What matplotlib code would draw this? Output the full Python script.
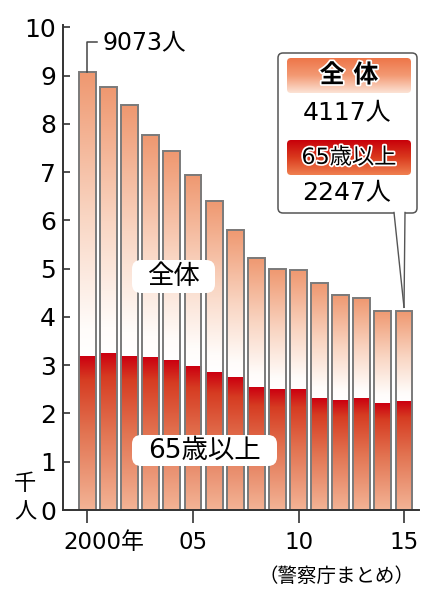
import numpy as np
import matplotlib
matplotlib.use('Agg')
import matplotlib.pyplot as plt
from matplotlib.colors import LinearSegmentedColormap
from matplotlib.patches import Rectangle, FancyBboxPatch, Polygon
import matplotlib.patheffects as pe

plt.rcParams['font.family'] = ['DejaVu Sans', 'Noto Sans CJK JP']

# ---- data (thousand persons) ----
years = list(range(2000, 2016))
total = [9.073, 8.76, 8.39, 7.77, 7.44, 6.95, 6.41, 5.81, 5.22, 4.99, 4.97, 4.70, 4.45, 4.39, 4.12, 4.117]
elderly = [3.18, 3.24, 3.18, 3.15, 3.09, 2.97, 2.85, 2.75, 2.54, 2.49, 2.49, 2.31, 2.27, 2.31, 2.21, 2.247]
ytick_vals = list(range(0, 11))
xtick_years = [2000, 2005, 2010, 2015]
xtick_labels = ['2000年', '05', '10', '15']
label_total = '全体'
label_elderly = '65歳以上'
source = '（警察庁まとめ）'

W, H = 421, 590
fig = plt.figure(figsize=(W / 100, H / 100), dpi=100)
ax = fig.add_axes([63 / W, 80 / H, (419 - 63) / W, 485 / H])

cm_total = LinearSegmentedColormap.from_list(
    't', [(0, '#FFFFFF'), (0.1, '#FFFCFA'), (0.5, '#F9D5C2'), (1, '#EF9870')])
cm_old = LinearSegmentedColormap.from_list(
    'o', [(0, '#F3B496'), (0.5, '#E27452'), (0.85, '#D63C22'), (1, '#CC0010')])
grad = np.linspace(0, 1, 256).reshape(-1, 1)
bw = 0.8
x0 = years[0]
for i, (y, t, e) in enumerate(zip(years, total, elderly)):
    x = y - x0
    ax.imshow(grad, extent=[x - bw / 2, x + bw / 2, e, t], origin='lower', cmap=cm_total,
              aspect='auto', interpolation='bilinear', zorder=2)
    ax.imshow(grad, extent=[x - bw / 2, x + bw / 2, 0, e], origin='lower', cmap=cm_old,
              aspect='auto', interpolation='bilinear', zorder=2)
    ax.add_patch(Rectangle((x - bw / 2, 0), bw, t, fill=False, ec='#7a7a7a', lw=1.4, zorder=3))

ax.set_xlim(-1.16, 15.71)
ax.set_ylim(0, 10.05)
for s in ['top', 'right']:
    ax.spines[s].set_visible(False)
for s in ['left', 'bottom']:
    ax.spines[s].set_color('#333333')
    ax.spines[s].set_linewidth(1.4)
    ax.spines[s].set_zorder(4)
ax.set_yticks(ytick_vals)
ax.set_yticklabels([str(v) for v in ytick_vals])
ax.tick_params(axis='y', direction='in', length=5, width=1.2, color='#333333', labelsize=18, pad=5)
ax.set_xticks([y - x0 for y in xtick_years])
ax.set_xticklabels([''] * len(xtick_years))
ax.tick_params(axis='x', direction='out', length=9, width=1.2, color='#333333')
xt = ax.get_xaxis_transform()
for y, lab in zip(xtick_years, xtick_labels):
    if y == xtick_years[0]:
        ax.text(y - x0 - 1.14, -0.068, lab, transform=xt, ha='left', va='center', fontsize=16.5, clip_on=False)
    else:
        ax.text(y - x0, -0.068, lab, transform=xt, ha='center', va='center', fontsize=16.5, clip_on=False)

# 9073 label with leader
ax.plot([0, 0, 0.45], [total[0], 9.69, 9.69], color='#444444', lw=1.1, clip_on=False, zorder=4)
ax.text(0.7, 9.69, f'{round(total[0] * 1000)}人', ha='left', va='center', fontsize=17, clip_on=False)

# ---- overlay in pixel coordinates ----
oax = fig.add_axes([0, 0, 1, 1], zorder=5)
oax.patch.set_alpha(0)
oax.axis('off')

def set_lims():
    oax.set_xlim(0, W)
    oax.set_ylim(H, 0)

set_lims()

def rbox(x, y, w, h, r, **kw):
    p = FancyBboxPatch((x, y), w, h, boxstyle=f'round,pad=0,rounding_size={r}', **kw)
    oax.add_patch(p)
    return p

# middle labels
rbox(132, 260, 83, 33, 9, fc='white', ec='none')
oax.text(173.5, 277, label_total, ha='center', va='center', fontsize=19)
rbox(132, 435, 145, 31, 9, fc='white', ec='none')
oax.text(204, 451, label_elderly, ha='center', va='center', fontsize=19)

# callout
px, py = ax.transData.transform((years[-1] - x0, total[-1]))
tip = (px, H - py - 4)
rbox(278, 53, 139, 160, 5, fc='white', ec='#555555', lw=1.1, zorder=1)
oax.add_patch(Polygon([(394, 211), (405, 211), tip], closed=True, fc='white', ec='none', zorder=3))
oax.plot([394, tip[0]], [212.5, tip[1]], color='#555555', lw=1.0, zorder=4)
oax.plot([405, tip[0]], [212.5, tip[1]], color='#555555', lw=1.0, zorder=4)

band1 = rbox(287, 58, 124, 35, 4, fc='none', ec='none', zorder=2)
im1 = oax.imshow(grad, extent=[287, 411, 93, 58], origin='upper', aspect='auto', zorder=2,
                 cmap=LinearSegmentedColormap.from_list('b1', ['#EE7548', '#F39A74', '#FCE3D6']))
im1.set_clip_path(band1)
band2 = rbox(287, 140, 124, 35, 4, fc='none', ec='none', zorder=2)
im2 = oax.imshow(grad, extent=[287, 411, 175, 140], origin='upper', aspect='auto', zorder=2,
                 cmap=LinearSegmentedColormap.from_list('b2', ['#C8000A', '#DA3A1E', '#F08050']))
im2.set_clip_path(band2)
set_lims()

stroke = [pe.withStroke(linewidth=2.5, foreground='white')]
oax.text(349, 75.5, '全 体', ha='center', va='center', fontsize=18, fontweight='bold',
         path_effects=stroke, zorder=6)
oax.text(347, 113, f'{round(total[-1] * 1000)}人', ha='center', va='center', fontsize=18, zorder=6)
oax.text(349, 157.5, label_elderly, ha='center', va='center', fontsize=16,
         path_effects=stroke, zorder=6)
oax.text(347, 193, f'{round(elderly[-1] * 1000)}人', ha='center', va='center', fontsize=18, zorder=6)

# unit label and source
oax.text(25, 484, '千', ha='center', va='center', fontsize=16)
oax.text(25, 512, '人', ha='center', va='center', fontsize=16)
oax.text(337, 577, source, ha='center', va='center', fontsize=14)

fig.savefig('out.png', dpi=100)
